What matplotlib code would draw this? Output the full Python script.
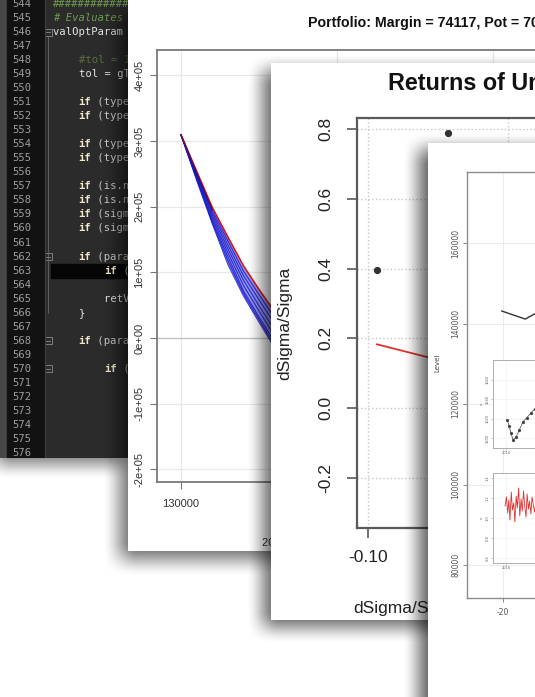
import numpy as np
import matplotlib
matplotlib.use('Agg')
import matplotlib.pyplot as plt
from matplotlib.patches import Rectangle

W, H = 535, 697

# ---- editor listing ----
code_first_line = 544
code_lines = [
    '#' * 60,
    '# Evaluates option parameter for a given sigma',
    'valOptParam <- function(param, type, sigma, tol) {',
    '',
    '    #tol = 1e-6',
    '    tol = gTol',
    '',
    '    if (type == "C") cp = 1',
    '    if (type == "P") cp = -1',
    '',
    '    if (type == "F") return(NA)',
    '    if (type == "S") return(NA)',
    '',
    '    if (is.na(sigma)) return(NA)',
    '    if (is.nan(sigma)) return(NA)',
    '    if (sigma < tol) sigma = tol',
    '    if (sigma > 5) sigma = 5',
    '',
    '    if (param == "price") {',
    '        if (cp > 0) {',
    '',
    '        retVal = bsCall(S, K, T, r, sigma)',
    '    }',
    '',
    '    if (param == "delta") {',
    '',
    '        if (cp > 0) {',
    '', '', '', '', '', '',
]
fold_lines = [546, 562, 568, 570]
current_line = 563

# ---- portfolio value vs underlying ----
pnl_x = [130000, 132000, 134000, 136000, 138000, 140000, 142000, 144000, 146000, 148000]
pnl_red = [3.09e5, 2.54e5, 1.99e5, 1.54e5, 1.10e5, 0.74e5, 0.40e5, 0.15e5, -0.05e5, -0.22e5]
pnl_blue = [
    [3.09e5, 2.52e5, 1.95e5, 1.48e5, 1.02e5, 0.66e5, 0.31e5, 0.05e5, -0.17e5, -0.36e5],
    [3.09e5, 2.50e5, 1.91e5, 1.42e5, 0.95e5, 0.58e5, 0.22e5, -0.06e5, -0.30e5, -0.51e5],
    [3.09e5, 2.48e5, 1.87e5, 1.36e5, 0.88e5, 0.49e5, 0.12e5, -0.17e5, -0.43e5, -0.66e5],
    [3.09e5, 2.46e5, 1.83e5, 1.30e5, 0.80e5, 0.41e5, 0.03e5, -0.28e5, -0.56e5, -0.82e5],
    [3.09e5, 2.44e5, 1.79e5, 1.24e5, 0.72e5, 0.32e5, -0.06e5, -0.40e5, -0.71e5, -0.98e5],
    [3.09e5, 2.42e5, 1.76e5, 1.18e5, 0.68e5, 0.28e5, -0.11e5, -0.46e5, -0.79e5, -1.07e5],
    [3.09e5, 2.40e5, 1.74e5, 1.12e5, 0.64e5, 0.24e5, -0.15e5, -0.52e5, -0.86e5, -1.15e5],
]
pnl_yticks = [-2e5, -1e5, 0, 1e5, 2e5, 3e5, 4e5]
pnl_ylabels = ['-2e+05', '-1e+05', '0e+00', '1e+05', '2e+05', '3e+05', '4e+05']
pnl_xticks = [130000, 150000, 170000]
pnl_xlabels = ['130000', '150000', '170000']

# ---- returns of underlying vs dSigma/Sigma ----
ret_pts_x = [-0.0968, -0.0714]
ret_pts_y = [0.395, 0.788]
ret_fit_x = [-0.0968, -0.0786, -0.0636, -0.0450]
ret_fit_y = [0.183, 0.146, 0.115, 0.078]
ret_yticks = [-0.2, 0.0, 0.2, 0.4, 0.6, 0.8]
ret_ylabels = ['-0.2', '0.0', '0.2', '0.4', '0.6', '0.8']
ret_xticks = [-0.10, -0.05]
ret_xlabels = ['-0.10', '-0.05']

# ---- level panel ----
lvl_x = [-20.2, -16.3, -14.7, -12.0]
lvl_y = [143100, 141100, 142400, 143000]
lvl_yticks = [80000, 100000, 120000, 140000, 160000]
lvl_ylabels = ['80000', '100000', '120000', '140000', '160000']
lvl_xticks = [-20]
lvl_xlabels = ['-20']

inset_px_x = [6.3, 7.2, 8.1, 9.0, 10.3, 11.7, 13.5, 15.2, 17.0, 18.8, 20.5]
inset_px_y = [1619, 1613, 1605, 1598, 1601, 1608, 1617, 1621, 1626, 1630, 1633]
inset_vol_x = [5.4, 6.0, 6.6, 7.1, 7.6, 8.2, 8.7, 9.3, 9.8, 10.4, 10.9, 11.5, 12.0,
               12.6, 13.1, 13.7, 14.2, 14.8, 15.3, 15.9, 16.4, 17.0, 17.5, 18.1, 18.7, 19.3]
inset_vol_y = [1.12, 1.21, 1.05, 1.18, 0.98, 1.26, 1.08, 1.15, 0.96, 1.22, 1.10, 1.30, 1.02,
               1.19, 1.07, 1.27, 1.12, 1.01, 1.24, 1.09, 1.17, 1.04, 1.21, 1.13, 1.06, 1.18]

fig = plt.figure(figsize=(W / 100, H / 100), dpi=100)
fig.patch.set_facecolor('white')


def box(x0, y0, x1, y1):
    return [x0 / W, 1 - y1 / H, (x1 - x0) / W, (y1 - y0) / H]


def soft(v):
    v = np.clip(v, 0, 1)
    return v * v * (3 - 2 * v)


def drop_shadow(z, x0, y0, x1, y1, dx=-7, dy=7, blur=16, strength=0.6):
    ax = fig.add_axes([0, 0, 1, 1], zorder=z)
    ax.set_axis_off()
    xs = np.arange(W) + 0.5
    ys = np.arange(H) + 0.5
    a0, a1, b0, b1 = x0 + dx, x1 + dx, y0 + dy, y1 + dy
    rx = soft((xs - a0 + blur) / (2 * blur)) * soft((a1 + blur - xs) / (2 * blur))
    ry = soft((ys - b0 + blur) / (2 * blur)) * soft((b1 + blur - ys) / (2 * blur))
    img = np.zeros((H, W, 4))
    img[..., 3] = strength * np.outer(ry, rx)
    ax.imshow(img, extent=[0, W, H, 0], interpolation='bilinear', aspect='auto')
    ax.set_xlim(0, W)
    ax.set_ylim(H, 0)


def sheet(z, x0, y0, x1, y1, color='white'):
    ax = fig.add_axes(box(x0, y0, x1, y1), zorder=z)
    ax.set_xlim(x0, x1)
    ax.set_ylim(y1, y0)
    ax.set_facecolor(color)
    ax.set_xticks([])
    ax.set_yticks([])
    for s in ax.spines.values():
        s.set_visible(False)
    return ax


def frame(ax, color, lw):
    for s in ax.spines.values():
        s.set_color(color)
        s.set_linewidth(lw)


# ================= editor =================
drop_shadow(0.5, 0, 0, 129, 458, dx=-4, dy=6, blur=16, strength=0.55)
ed = sheet(1, 0, 0, 129, 458, color='#2b2b2b')
ed.add_patch(Rectangle((0, 0), 7, 458, color='#474747'))
ed.add_patch(Rectangle((7, 0), 37, 458, color='#121212'))
ed.plot([45, 45], [0, 458], color='#3e3e3e', lw=0.8)
row_h = 14.03
cw = 6.4
fs = 7.6
mono = 'DejaVu Sans Mono'
for i, line in enumerate(code_lines):
    n = code_first_line + i
    y = 4 + i * row_h
    if n == current_line:
        ed.add_patch(Rectangle((51, y - 7), 100, 14, color='#050505'))
    ed.text(31, y, str(n), ha='right', va='center', family=mono, fontsize=fs,
            color='#9c9c9c', clip_on=True)
    if not line:
        continue
    stripped = line.lstrip(' ')
    indent = len(line) - len(stripped)
    x = 53 + indent * cw
    if stripped.startswith('#'):
        style = 'italic' if n == 545 else 'normal'
        col = '#6f9a4f' if n != 548 else '#55703f'
        ed.text(x, y, stripped, ha='left', va='center', family=mono, fontsize=fs,
                color=col, style=style, clip_on=True)
    elif stripped.startswith('if'):
        ed.text(x, y, 'if', ha='left', va='center', family=mono, fontsize=fs,
                color='#f0e6c8', weight='bold', clip_on=True)
        ed.text(x + 2 * cw, y, stripped[2:], ha='left', va='center', family=mono,
                fontsize=fs, color='#c8c8c8', clip_on=True)
    else:
        ed.text(x, y, stripped, ha='left', va='center', family=mono, fontsize=fs,
                color='#e2e2e2', clip_on=True)
for n in fold_lines:
    y = 4 + (n - code_first_line) * row_h
    ed.add_patch(Rectangle((44.5, y - 3.5), 7, 7, fc='#2b2b2b', ec='#8a8a8a', lw=0.6))
    ed.plot([46, 50], [y, y], color='#8a8a8a', lw=0.6)
ed.plot([48, 48], [4 + 2 * row_h + 4, 4 + 22 * row_h], color='#666666', lw=0.6)

# ================= portfolio panel =================
drop_shadow(2, 128, 0, 535, 551, dx=-8, dy=8, blur=18, strength=0.6)
p2 = sheet(3, 128, 0, 535, 551)
p2.text(308, 23, 'Portfolio: Margin = 74117, Pot = 70512', ha='left', va='center',
        fontsize=10.2, weight='bold', family='Liberation Sans', color='#111111')
p2.text(262, 543, '20 Day Underlying Price', ha='left', va='center', fontsize=8,
        family='Liberation Sans', color='#333333')

a2 = fig.add_axes(box(157, 50, 610, 482), zorder=3.1)
a2.set_xlim(126920, 126920 + 453 / 78 * 10000)
a2.set_ylim(-(482 - 338) / 65.7 * 1e5, (338 - 50) / 65.7 * 1e5)
frame(a2, '#7a7a7a', 1.3)
a2.grid(True, color='#e8e8e8', lw=0.9)
a2.set_axisbelow(True)
a2.axhline(0, color='#c4c4c4', lw=1.0, zorder=1)
a2.fill_between(pnl_x, pnl_blue[-1], pnl_red, color='#3a3ae0', alpha=0.55, lw=0)
for ys in pnl_blue:
    a2.plot(pnl_x, ys, color='#1212c8', lw=0.8, alpha=0.8)
a2.plot(pnl_x, pnl_red, color='#e01010', lw=1.1)
a2.plot(pnl_x[:3], pnl_blue[0][:3], color='#1a1060', lw=1.2, alpha=0.6)
a2.set_yticks(pnl_yticks, pnl_ylabels, rotation=90, va='center')
a2.set_xticks(pnl_xticks, pnl_xlabels)
a2.tick_params(direction='out', length=5, width=0.8, color='#777777', labelsize=8,
               labelcolor='#333333')
a2.tick_params(axis='y', pad=4)
a2.tick_params(axis='x', pad=7)
for lab in a2.get_xticklabels() + a2.get_yticklabels():
    lab.set_family('Liberation Sans')

# ================= returns panel =================
drop_shadow(4, 271, 63, 560, 620, dx=-8, dy=7, blur=17, strength=0.62)
p3 = sheet(5, 271, 63, 535, 620)
p3.text(388, 84, 'Returns of Underlying', ha='left', va='center', fontsize=16.8,
        weight='bold', family='Liberation Sans', color='#111111')
p3.text(285, 323, 'dSigma/Sigma', ha='center', va='center', rotation=90, fontsize=12.5,
        family='Liberation Sans', color='#222222')
p3.text(353, 609, 'dSigma/Sigma', ha='left', va='center', fontsize=12.5,
        family='Liberation Sans', color='#222222')

a3 = fig.add_axes(box(357, 118, 610, 528), zorder=5.1)
a3.set_xlim(-0.10 - 11 / 2800, -0.10 + (610 - 368) / 2800)
a3.set_ylim(-0.2 - 50 / 349, 0.8 + 11 / 349)
frame(a3, '#5a5a5a', 1.6)
a3.grid(True, color='#c8c8c8', lw=1.0, ls=':')
a3.set_axisbelow(True)
a3.plot(ret_pts_x, ret_pts_y, 'o', color='#333333', ms=4.2)
a3.plot(ret_fit_x, ret_fit_y, color='#e03030', lw=1.3)
a3.set_yticks(ret_yticks, ret_ylabels, rotation=90, va='center')
a3.set_xticks(ret_xticks, ret_xlabels)
a3.tick_params(direction='out', length=7, width=1.2, color='#5a5a5a', labelsize=12.5,
               labelcolor='#222222')
a3.tick_params(axis='y', pad=10)
a3.tick_params(axis='x', pad=9)
for lab in a3.get_xticklabels() + a3.get_yticklabels():
    lab.set_family('Liberation Sans')

# ================= level panel =================
drop_shadow(6, 428, 143, 580, 740, dx=-9, dy=6, blur=17, strength=0.65)
p4 = sheet(7, 428, 143, 535, 697)
p4.text(437, 363, 'Level', ha='center', va='center', rotation=90, fontsize=5,
        color='#444444')

a4 = fig.add_axes(box(467, 172, 610, 598), zorder=7.1)
a4.set_xlim(-26, -26 + (610 - 467) / 6)
a4.set_ylim(80000 - 33 / 4.025 * 1000, 160000 + 71 / 4.025 * 1000)
frame(a4, '#8c8c8c', 1.0)
a4.grid(True, color='#ececec', lw=0.7)
a4.set_axisbelow(True)
a4.plot(lvl_x, lvl_y, color='#333333', lw=1.0)
a4.set_yticks(lvl_yticks, lvl_ylabels, rotation=90, va='center')
a4.set_xticks(lvl_xticks, lvl_xlabels)
a4.tick_params(direction='out', length=3, width=0.6, color='#777777', labelsize=5.5,
               labelcolor='#555555', pad=2)
a4.tick_params(axis='x', pad=4)

i1 = fig.add_axes(box(493, 360, 620, 448), zorder=7.2)
i1.set_xlim(0, (620 - 493) / 2.23)
i1.set_ylim(1590, 1680)
i1.plot(inset_px_x, inset_px_y, color='#444444', lw=0.5, marker='o', ms=1.3)
i1.set_yticks([1600, 1620, 1640, 1660], ['1600', '1620', '1640', '1660'], rotation=90,
              va='center')
i1.set_xticks([6], ['2016'])
i1.set_ylabel('s', fontsize=3, color='#555555', labelpad=1)

i2 = fig.add_axes(box(493, 473, 620, 563), zorder=7.2)
i2.set_xlim(0, (620 - 493) / 2.23)
i2.set_ylim(0.55, 1.45)
i2.plot(inset_vol_x, inset_vol_y, color='#e03030', lw=0.6)
i2.set_yticks([0.6, 0.8, 1.0, 1.2, 1.4], ['0.6', '0.8', '1.0', '1.2', '1.4'], rotation=90,
              va='center')
i2.set_xticks([6], ['2016'])
i2.set_ylabel('v', fontsize=3, color='#555555', labelpad=1)

for ax in (i1, i2):
    frame(ax, '#a0a0a0', 0.6)
    ax.grid(True, color='#f0f0f0', lw=0.5)
    ax.set_axisbelow(True)
    ax.tick_params(direction='out', length=1.5, width=0.4, color='#999999', labelsize=2.6,
                   labelcolor='#666666', pad=1)

fig.savefig('out.png', dpi=100, facecolor='white')
